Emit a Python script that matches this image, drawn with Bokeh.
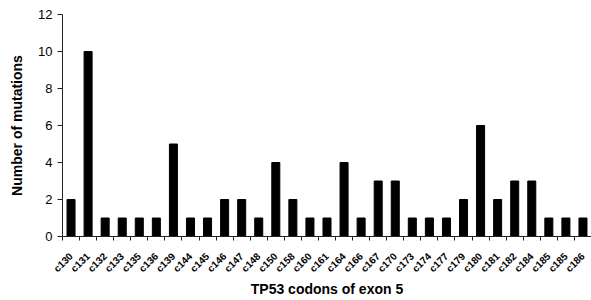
import math
from bokeh.plotting import figure
from bokeh.models import ColumnDataSource, Range1d, FixedTicker
from bokeh.embed import file_html
from bokeh.resources import INLINE

codons = ["c130", "c131", "c132", "c133", "c135", "c136", "c139", "c144", "c145", "c146",
          "c147", "c148", "c150", "c158", "c160", "c161", "c164", "c166", "c167", "c170",
          "c173", "c174", "c177", "c179", "c180", "c181", "c182", "c184", "c185", "c185", "c186"]
mutations = [2, 10, 1, 1, 1, 1, 5, 1, 1, 2,
             2, 1, 4, 2, 1, 1, 4, 1, 3, 3,
             1, 1, 1, 2, 6, 2, 3, 3, 1, 1, 1]
y_ticks = [0, 2, 4, 6, 8, 10, 12]

n = len(codons)
xs = list(range(n))
src = ColumnDataSource(dict(x=xs, top=mutations, label=codons))

p = figure(width=591, height=300, output_backend="svg", toolbar_location=None,
           x_range=Range1d(-0.5, n - 0.5), y_range=Range1d(0, 12),
           min_border_left=62, min_border_right=0, min_border_top=14, min_border_bottom=63)
p.vbar(x="x", top="top", width=0.47, bottom=0, color="black", source=src)

p.grid.visible = False
p.outline_line_color = None
p.background_fill_color = "white"
p.border_fill_color = "white"

# x axis
xa = p.xaxis[0]
xa.ticker = FixedTicker(ticks=xs, minor_ticks=[i - 0.5 for i in range(n + 1)])
xa.major_label_overrides = {i: c for i, c in enumerate(codons)}
xa.major_tick_line_color = None
xa.major_tick_out = 0
xa.major_tick_in = 0
xa.minor_tick_out = 4
xa.minor_tick_in = 0
xa.minor_tick_line_color = "#222222"
xa.axis_line_color = "#222222"
xa.major_label_orientation = math.pi / 4
xa.major_label_text_font = "Liberation Sans"
xa.major_label_text_font_style = "bold"
xa.major_label_text_font_size = "10px"
xa.major_label_text_color = "black"
xa.major_label_standoff = 14
xa.axis_label = "TP53 codons of exon 5"
xa.axis_label_text_font = "Liberation Sans"
xa.axis_label_text_font_style = "bold"
xa.axis_label_text_font_size = "14px"
xa.axis_label_text_color = "black"
xa.axis_label_standoff = 0

# y axis
ya = p.yaxis[0]
ya.ticker = FixedTicker(ticks=y_ticks)
ya.minor_tick_line_color = None
ya.major_tick_out = 5
ya.major_tick_in = 0
ya.major_tick_line_color = "#222222"
ya.axis_line_color = "#222222"
ya.major_label_text_font = "Liberation Sans"
ya.major_label_text_font_size = "13px"
ya.major_label_text_color = "black"
ya.major_label_standoff = 5
ya.axis_label = "Number of mutations"
ya.axis_label_text_font = "Liberation Sans"
ya.axis_label_text_font_style = "bold"
ya.axis_label_text_font_size = "14px"
ya.axis_label_text_color = "black"
ya.axis_label_standoff = 10

open("out.html", "w").write(file_html(p, INLINE))
